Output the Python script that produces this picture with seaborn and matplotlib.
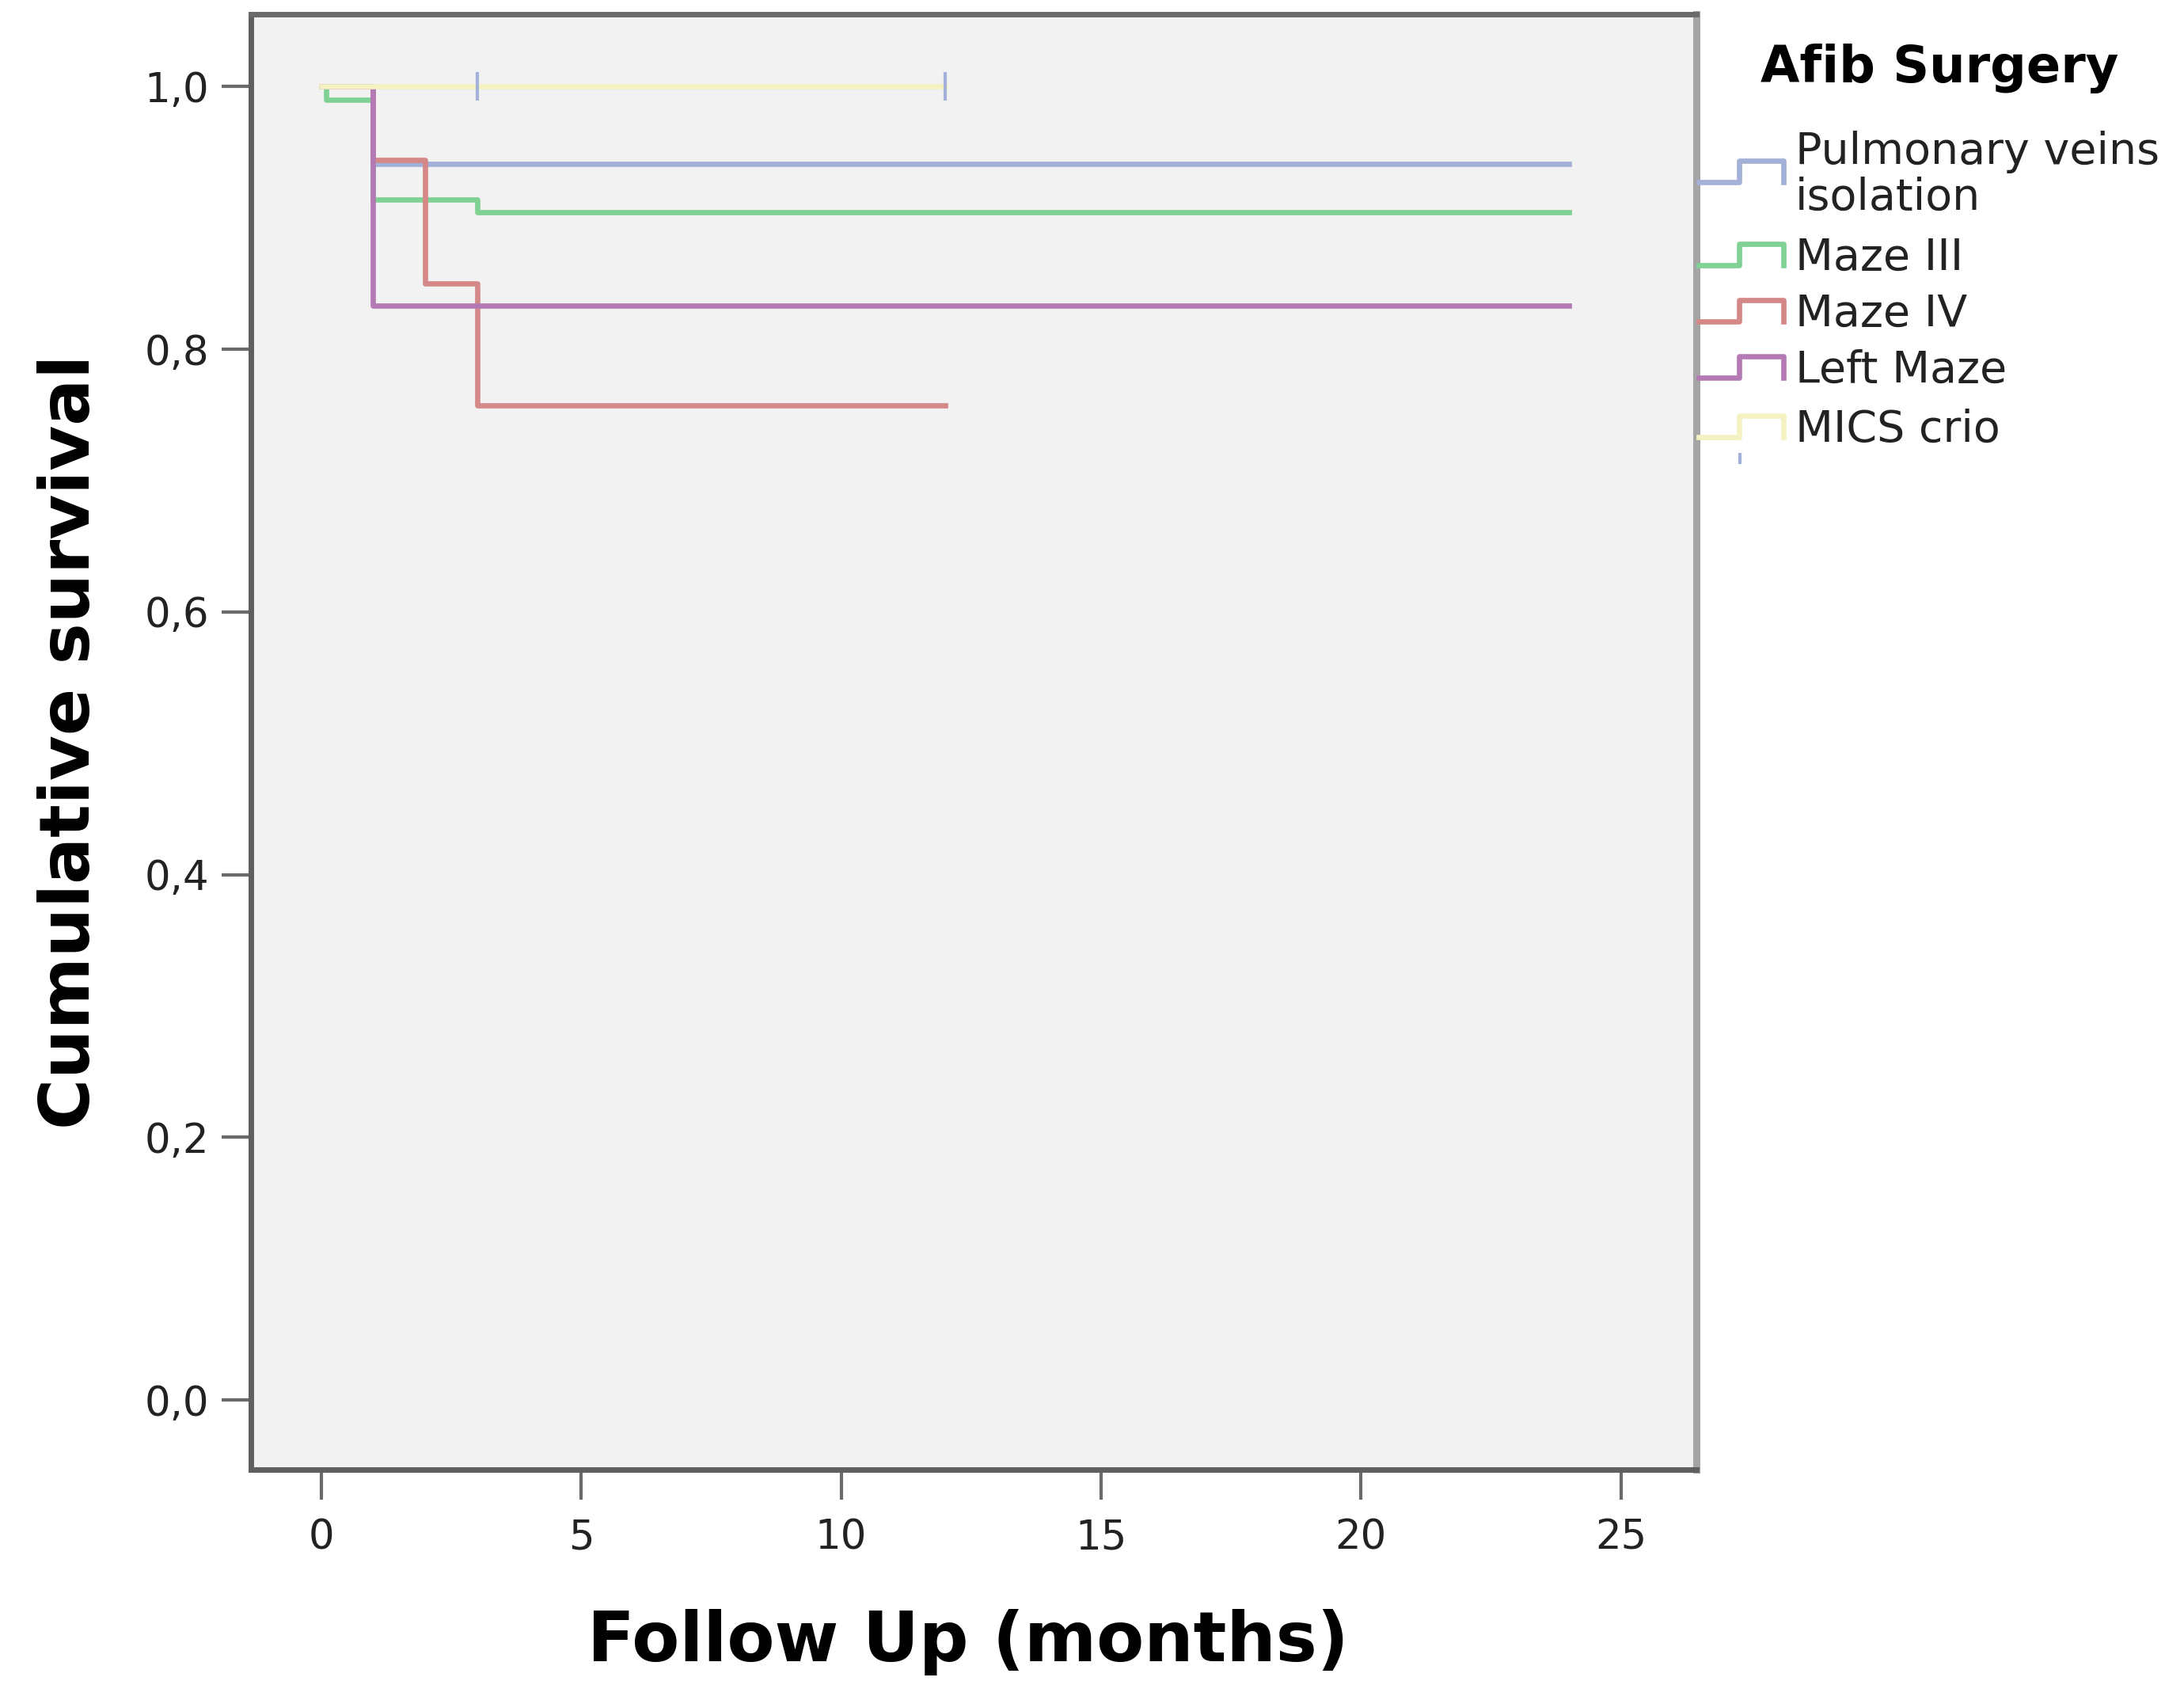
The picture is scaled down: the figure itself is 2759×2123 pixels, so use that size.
import matplotlib
matplotlib.use("Agg")
import matplotlib.pyplot as plt
import seaborn as sns
import pandas as pd
from matplotlib.lines import Line2D

# ---------------- data ----------------
groups = ["Pulmonary veins isolation", "Maze III", "Maze IV", "Left Maze", "MICS crio"]
legend_labels = ["Pulmonary veins\nisolation", "Maze III", "Maze IV", "Left Maze", "MICS crio"]

pvi_time = [0, 1, 24]
pvi_surv = [1.0, 0.941, 0.941]
maze3_time = [0, 0.1, 1, 3, 24]
maze3_surv = [1.0, 0.990, 0.914, 0.904, 0.904]
maze4_time = [0, 1, 2, 3, 12]
maze4_surv = [1.0, 0.944, 0.850, 0.757, 0.757]
left_time = [0, 1, 24]
left_surv = [1.0, 0.833, 0.833]
mics_time = [0, 12]
mics_surv = [1.0, 1.0]

censor_time = [3, 12]
censor_surv = [1.0, 1.0]

x_ticks = [0, 5, 10, 15, 20, 25]
y_ticks = [0.0, 0.2, 0.4, 0.6, 0.8, 1.0]
y_ticklabels = ["0,0", "0,2", "0,4", "0,6", "0,8", "1,0"]

colors = ["#a3b0d8", "#7fd294", "#d48888", "#b47ab6", "#f4f1c2"]

times = [pvi_time, maze3_time, maze4_time, left_time, mics_time]
survs = [pvi_surv, maze3_surv, maze4_surv, left_surv, mics_surv]
rows = []
for g, t, s in zip(groups, times, survs):
    for ti, si in zip(t, s):
        rows.append({"group": g, "time": ti, "surv": si})
df = pd.DataFrame(rows)
cens = pd.DataFrame({"time": censor_time, "surv": censor_surv})

# ---------------- figure ----------------
W, H = 2759, 2123
fig = plt.figure(figsize=(W / 100, H / 100), dpi=100)
fig.patch.set_facecolor("white")
L, R, T, B = 317, 2143, 18, 1856
ax = fig.add_axes([L / W, 1 - B / H, (R - L) / W, (B - T) / H])
ax.set_facecolor("#f2f2f2")

sns.lineplot(data=df, x="time", y="surv", hue="group", hue_order=groups,
             palette=colors, drawstyle="steps-post", estimator=None, sort=False,
             linewidth=4.8, legend=False, ax=ax)
sns.scatterplot(data=cens, x="time", y="surv", marker="|", s=700,
                color="#a3b0d8", linewidth=3, ax=ax, zorder=5)

ax.set_xlim(-1.35, 26.45)
ax.set_ylim(-0.053, 1.055)
ax.set_xticks(x_ticks)
ax.set_xticklabels([str(v) for v in x_ticks])
ax.set_yticks(y_ticks)
ax.set_yticklabels(y_ticklabels)
ax.tick_params(axis="both", direction="out", length=27, width=3, color="#6a6a6a",
               labelsize=37, labelcolor="#222222")
ax.tick_params(axis="x", pad=17)
ax.tick_params(axis="y", pad=11)

for name, sp in ax.spines.items():
    sp.set_visible(True)
    if name in ("left", "bottom"):
        sp.set_color("#5f5f5f")
        sp.set_linewidth(5)
    elif name == "top":
        sp.set_color("#6a6a6a")
        sp.set_linewidth(5)
    else:
        sp.set_color("#a5a5a5")
        sp.set_linewidth(6.5)

ax.set_xlabel("Follow Up (months)", fontsize=63, fontweight="bold", color="black")
ax.set_ylabel("Cumulative survival", fontsize=63, fontweight="bold", color="black")
ax.xaxis.set_label_coords(0.496, -0.0955)
ax.yaxis.set_label_coords(-0.1016, 0.5)

# ---------------- legend (SPSS style) ----------------
fig.text(2224 / W, 1 - 87 / H, "Afib Surgery", fontsize=46, fontweight="bold",
         ha="left", va="center", color="black")
centers = [221, 326, 397, 468, 543]
for lab, col, cy in zip(legend_labels, colors, centers):
    yl = cy + 9
    yh = yl - 27
    xs = [2146, 2197, 2197, 2253, 2253]
    ys = [yl, yl, yh, yh, yl]
    fig.add_artist(Line2D([x / W for x in xs], [1 - y / H for y in ys],
                          transform=fig.transFigure, color=col, linewidth=4.8))
    fig.text(2268 / W, 1 - cy / H, lab, fontsize=40, ha="left", va="center",
             color="#222222", linespacing=1.1)
fig.add_artist(Line2D([2198 / W, 2198 / W], [1 - 574 / H, 1 - 584 / H],
                      transform=fig.transFigure, color="#a3b0d8", linewidth=3))

fig.savefig("out.png", dpi=100, facecolor="white")
